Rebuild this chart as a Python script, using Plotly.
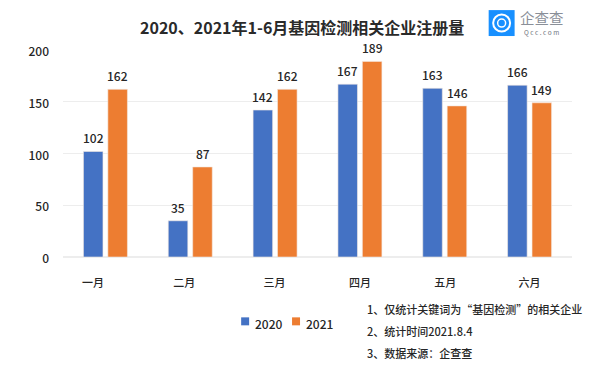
import plotly.graph_objects as go

months = ["一月", "二月", "三月", "四月", "五月", "六月"]
month_label_positions = [-0.147, 0.929, 1.994, 3.0, 4.006, 5.0]
values_2020 = [102, 35, 142, 167, 163, 166]
values_2021 = [162, 87, 162, 189, 146, 149]
notes = ["1、仅统计关键词为“基因检测”的相关企业", "2、统计时间2021.8.4", "3、数据来源：企查查"]
title = "2020、2021年1-6月基因检测相关企业注册量"

FONT = "Noto Sans CJK SC"
W, H = 598, 369
L, R, T, B = 62.5, 572.5, 50, 257.5
TXT = "#262626"
BLUE, ORANGE = "#4472C4", "#ED7D31"

def px(x): return (x - L) / (R - L)
def py(y): return (B - y) / (B - T)

fig = go.Figure()
for name, vals, col, shift in [("2020", values_2020, BLUE, -12.25), ("2021", values_2021, ORANGE, 12.25)]:
    fig.add_bar(x=months, y=vals, name=name, cliponaxis=False,
                marker=dict(color=col, line=dict(color="#F3E9E2", width=0.6)))
    for m, v in zip(months, vals):
        fig.add_annotation(x=m, y=v, text=str(v), xshift=shift, yshift=3, yanchor="bottom", showarrow=False,
                           xref="x", yref="y",
                           font=dict(family=FONT, size=12, color=TXT, weight=500))

annots = [
    dict(x=px(302), y=py(27), text=f"<b>{title}</b>", font=dict(size=16, color="#2a2a2a")),
    dict(x=px(542), y=py(17), text="企查查", font=dict(size=14.5, color="#8a8f98")),
    dict(x=px(542), y=py(32), text="Q c c . c o m", font=dict(size=6.5, color="#6f7680")),
    dict(x=px(253), y=py(324), text="2020", xanchor="left", font=dict(size=12, color=TXT, weight=500)),
    dict(x=px(304), y=py(324), text="2021", xanchor="left", font=dict(size=12, color=TXT, weight=500)),
]
for n, y in zip(notes, [310, 332, 354]):
    annots.append(dict(x=px(365), y=py(y), text=n, xanchor="left", font=dict(size=11, color=TXT, weight=500)))
for a in annots:
    a.setdefault("xanchor", "center")
    a.update(xref="paper", yref="paper", yanchor="middle", showarrow=False)
    a["font"]["family"] = FONT
    fig.add_annotation(a)

def box(x0, x1, y0, y1, **kw):
    return dict(x0=px(x0), x1=px(x1), y0=py(y0), y1=py(y1), xref="paper", yref="paper", **kw)

shapes = [
    box(489, 515, 36, 10, type="rect", fillcolor="#1890FF", line=dict(width=0)),
    box(493.5, 510.5, 31.5, 14.5, type="circle", line=dict(color="white", width=2), fillcolor="rgba(0,0,0,0)"),
    box(498, 506, 27, 19, type="circle", line=dict(color="white", width=1.5), fillcolor="rgba(0,0,0,0)"),
    box(241, 249, 326, 318, type="rect", fillcolor=BLUE, line=dict(width=0)),
    box(292, 300, 326, 318, type="rect", fillcolor=ORANGE, line=dict(width=0)),
]
fig.update_layout(
    width=W, height=H, autosize=False, paper_bgcolor="white", plot_bgcolor="white",
    margin=dict(l=L, r=W - R, t=T, b=H - B, pad=0, autoexpand=False),
    barmode="group", bargap=0.424, bargroupgap=0.2, showlegend=False,
    shapes=shapes, annotations=list(fig.layout.annotations),
    font=dict(family=FONT, color=TXT),
    xaxis=dict(showgrid=False, showline=False, ticks="", ticklabelstandoff=18, automargin=False,
               categoryorder="array", categoryarray=months,
               tickmode="array", tickvals=month_label_positions, ticktext=months,
               tickfont=dict(size=11, family=FONT, color=TXT, weight=500)),
    yaxis=dict(range=[0, 200], tickvals=[0, 50, 100, 150, 200], automargin=False, ticklabelstandoff=13,
               ticklabelshift=2,
               gridcolor="#EDEDED", gridwidth=1, zeroline=True, zerolinecolor="#EDEDED", ticks="",
               tickfont=dict(size=12, family=FONT, color=TXT, weight=500)),
)
fig.write_html("out.html", config=dict(displayModeBar=False),
               post_script="document.body.style.margin='0';document.documentElement.style.overflow='hidden';")
